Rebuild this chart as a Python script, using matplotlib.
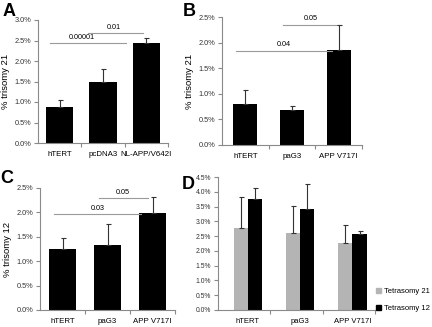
import matplotlib
matplotlib.use('Agg')
import matplotlib.pyplot as plt
from matplotlib.ticker import FuncFormatter, MultipleLocator
from matplotlib.patches import Patch

plt.rcParams['font.family'] = ['Liberation Sans', 'DejaVu Sans']

# panel A
a_labels = ['hTERT', 'pcDNA3', 'NL-APP/V642I']
a_vals = [0.87, 1.50, 2.44]
a_err = [0.17, 0.30, 0.13]
# (line start, line end, height, label, label x)
a_sig = [(-0.22, 1.52, 2.43, '0.00001', 0.52), (0.65, 1.92, 2.68, '0.01', 1.25)]

# panel B
b_labels = ['hTERT', 'paG3', 'APP V717I']
b_vals = [0.81, 0.68, 1.86]
b_err = [0.26, 0.08, 0.48]
b_sig = [(-0.2, 1.85, 1.84, '0.04', 0.82), (0.8, 2.0, 2.35, '0.05', 1.4)]

# panel C
c_labels = ['hTERT', 'paG3', 'APP V717I']
c_vals = [1.25, 1.33, 1.98]
c_err = [0.22, 0.43, 0.33]
c_sig = [(-0.2, 1.75, 1.97, '0.03', 0.78), (0.8, 1.9, 2.29, '0.05', 1.35)]

# panel D
d_labels = ['hTERT', 'paG3', 'APP V717I']
d_tet21 = [2.76, 2.60, 2.26]
d_tet21_err = [1.06, 0.93, 0.61]
d_tet12 = [3.74, 3.43, 2.56]
d_tet12_err = [0.40, 0.82, 0.12]

W, H = 432, 327
fig = plt.figure(figsize=(W / 100, H / 100), dpi=100)


def box(l, r, t, b):
    return [l / W, 1 - b / H, (r - l) / W, (b - t) / H]


pct = FuncFormatter(lambda v, p: '%.1f%%' % v)
axis_col = '#8a8a8a'
err_kw = dict(ecolor='#333333', elinewidth=0.8, capthick=0.8)


def style(ax, labels, ymax, step):
    for s in ['top', 'right']:
        ax.spines[s].set_visible(False)
    for s in ['left', 'bottom']:
        ax.spines[s].set_color(axis_col)
        ax.spines[s].set_linewidth(0.8)
    ax.set_xlim(-0.5, 2.5)
    ax.set_ylim(0, ymax)
    ax.yaxis.set_major_locator(MultipleLocator(step))
    ax.yaxis.set_major_formatter(pct)
    ax.set_xticks(range(3))
    ax.set_xticklabels(labels, fontsize=5.7)
    ax.set_xticks([0.5, 1.5, 2.5], minor=True)
    ax.tick_params(axis='x', which='major', length=0, pad=6)
    ax.tick_params(axis='x', which='minor', length=3, color=axis_col, width=0.8)
    ax.tick_params(axis='y', length=3, color=axis_col, width=0.8, labelsize=5.3,
                   pad=2, labelcolor='#333333')


def sig(ax, items):
    for x0, x1, y, txt, tx in items:
        ax.plot([x0, x1], [y, y], color='#9a9a9a', lw=0.8, clip_on=False)
        ax.text(tx, y + ax.get_ylim()[1] * 0.018, txt,
                ha='center', va='bottom', fontsize=5.2)


def bars(ax, vals, err, width):
    ax.bar(range(3), vals, width=width, color='black', zorder=2,
           yerr=[[0] * 3, err], capsize=1.8, error_kw=err_kw)


axA = fig.add_axes(box(38, 168, 20, 143))
bars(axA, a_vals, a_err, 0.63)
style(axA, a_labels, 3.0, 0.5)
axA.set_ylabel('% trisomy 21', fontsize=6.8, labelpad=3)
sig(axA, a_sig)

axB = fig.add_axes(box(222, 362, 17, 145))
bars(axB, b_vals, b_err, 0.52)
style(axB, b_labels, 2.5, 0.5)
axB.set_ylabel('% trisomy 21', fontsize=6.8, labelpad=3)
sig(axB, b_sig)

axC = fig.add_axes(box(40, 175, 188, 310))
bars(axC, c_vals, c_err, 0.6)
style(axC, c_labels, 2.5, 0.5)
axC.set_ylabel('% trisomy 12', fontsize=6.8, labelpad=3)
sig(axC, c_sig)

axD = fig.add_axes(box(218, 375, 177, 310))
bw = 0.27
x = [i + 0.07 for i in range(3)]
axD.bar([v - bw / 2 for v in x], d_tet21, width=bw, color='#b4b4b4',
        yerr=[[0] * 3, d_tet21_err], capsize=1.8, error_kw=err_kw)
axD.bar([v + bw / 2 for v in x], d_tet12, width=bw, color='black',
        yerr=[[0] * 3, d_tet12_err], capsize=1.8, error_kw=err_kw)
style(axD, d_labels, 4.5, 0.5)
axD.set_xticks(x)
axD.set_xticklabels(d_labels, fontsize=5.5)
axD.tick_params(axis='y', labelsize=4.9)
axD.legend(handles=[Patch(color='#b4b4b4', label='Tetrasomy 21'),
                    Patch(color='black', label='Tetrasomy 12')],
           loc='lower left', bbox_to_anchor=(0.985, -0.04), frameon=False,
           fontsize=5.5, handlelength=0.7, handleheight=0.7,
           handletextpad=0.4, labelspacing=1.3, borderaxespad=0)

for lab, px, py in [('A', 3, 3), ('B', 183, 3), ('C', 0, 170), ('D', 182, 176)]:
    fig.text(px / W, 1 - py / H, lab, fontsize=13, fontweight='bold',
             ha='left', va='top')

fig.savefig('out.png', dpi=100)
